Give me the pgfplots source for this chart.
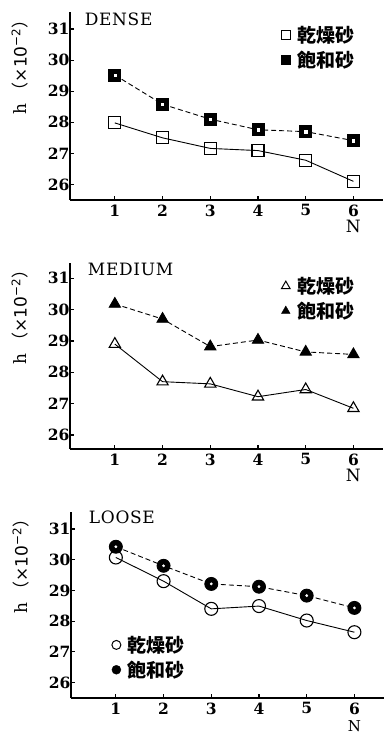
\documentclass[border=0pt]{standalone}
\usepackage{fontspec}
\setmainfont{DejaVu Serif}
\newfontfamily\cjk{Noto Sans CJK SC}
\newfontfamily\sansf{DejaVu Sans}
\usepackage{pgfplots}
\pgfplotsset{compat=1.18}
\pgfplotsset{
 panel/.style={
  scale only axis, width=313pt, height=188pt,
  xmin=0.06, xmax=6.62, ymin=25.5, ymax=31.55,
  axis x line*=bottom, axis y line*=left,
  axis line style={line width=1.6pt},
  xtick={1,...,6}, ytick={26,...,31},
  tick align=inside, major tick length=4pt,
  tick style={line width=1.2pt, black},
  /pgf/number format/assume math mode=true,
  ticklabel style={font=\bfseries\fontsize{15.5}{15.5}\selectfont},
  xticklabel style={yshift=-1pt},
  yticklabel style={xshift=3pt},
  legend style={draw=none, fill=none, font=\cjk\bfseries\fontsize{19}{19}\selectfont, row sep=3pt, inner sep=0pt},
  legend cell align=left,
  clip=false,
 },
 dry/.style={solid, line width=0.9pt, black, mark options={solid, fill=white, line width=1.1pt}},
 sat/.style={dash pattern=on 5pt off 3pt, line width=0.9pt, black, mark options={solid, fill=black}},
}
\newcommand{\ylab}{\node[rotate=90, font=\fontsize{17}{17}\selectfont] at (axis description cs:-0.16,0.73) {h\hspace{4pt}{\cjk （}{\sansf ×10\textsuperscript{−2}}{\cjk ）}};}
\newcommand{\ttl}[1]{{\fontsize{17}{17}\selectfont\addfontfeature{LetterSpace=4}#1}}
\begin{document}
\begin{tikzpicture}[x=1pt,y=1pt]
\path[use as bounding box] (0,0) rectangle (383,735);
% ---------- DENSE ----------
\begin{axis}[panel, at={(70pt,535pt)}, anchor=south west,
  legend style={at={(axis description cs:0.675,0.935)}, anchor=north west}]
\addlegendimage{only marks, mark=square, mark size=4.5pt, mark options={fill=white, line width=1pt}}
\addlegendentry{\hspace{5pt}乾燥砂}
\addlegendimage{only marks, mark=square*, mark size=4.5pt, mark options={fill=black}}
\addlegendentry{\hspace{5pt}飽和砂}
\addplot[sat, mark=square*, mark size=6pt, forget plot] coordinates {(1,29.52) (2,28.58) (3,28.10) (4,27.76) (5,27.70) (6,27.41)};
\addplot[only marks, mark=square*, mark size=1.1pt, white, forget plot] coordinates {(1,29.52) (2,28.58) (3,28.10) (4,27.76) (5,27.70) (6,27.41)};
\addplot[dry, mark=square, mark size=6pt, forget plot] coordinates {(1,27.98) (2,27.50) (3,27.16) (4,27.09) (5,26.78) (6,26.10)};
\node[anchor=base west] at (axis description cs:0.036,0.93) {\ttl{DENSE}};
\node[font=\fontsize{17}{17}\selectfont] at (axis cs:6,25.5) [yshift=-26pt] {N};
\ylab
\end{axis}
% ---------- MEDIUM ----------
\begin{axis}[panel, height=186pt, ymin=25.55, ymax=31.49, at={(70pt,286pt)}, anchor=south west,
  legend style={at={(axis description cs:0.675,0.935)}, anchor=north west}]
\addlegendimage{only marks, mark=triangle, mark size=5pt, mark options={fill=white, line width=1pt}}
\addlegendentry{\hspace{5pt}乾燥砂}
\addlegendimage{only marks, mark=triangle*, mark size=5pt, mark options={fill=black}}
\addlegendentry{\hspace{5pt}飽和砂}
\addplot[sat, mark=triangle*, mark size=6.5pt, forget plot] coordinates {(1,30.18) (2,29.70) (3,28.82) (4,29.03) (5,28.65) (6,28.57)};
\addplot[dry, mark=triangle, mark size=6.5pt, forget plot] coordinates {(1,28.90) (2,27.70) (3,27.63) (4,27.22) (5,27.45) (6,26.85)};
\node[anchor=base west] at (axis description cs:0.046,0.935) {\ttl{MEDIUM}};
\node[font=\fontsize{17}{17}\selectfont] at (axis cs:6,25.55) [yshift=-26pt] {N};
\ylab
\end{axis}
% ---------- LOOSE ----------
\begin{axis}[panel, height=186pt, at={(71pt,37pt)}, anchor=south west,
  legend style={at={(axis description cs:0.13,0.345)}, anchor=north west}]
\addlegendimage{only marks, mark=o, mark size=4.5pt, mark options={fill=white, line width=1pt}}
\addlegendentry{\hspace{5pt}乾燥砂}
\addlegendimage{only marks, mark=*, mark size=4.5pt, mark options={fill=black}}
\addlegendentry{\hspace{5pt}飽和砂}
\addplot[sat, mark=*, mark size=6.5pt, forget plot] coordinates {(1,30.42) (2,29.80) (3,29.21) (4,29.12) (5,28.83) (6,28.43)};
\addplot[only marks, mark=*, mark size=1.2pt, white, forget plot] coordinates {(1,30.42) (2,29.80) (3,29.21) (4,29.12) (5,28.83) (6,28.43)};
\addplot[dry, mark=o, mark size=6.5pt, forget plot] coordinates {(1,30.07) (2,29.30) (3,28.40) (4,28.49) (5,28.02) (6,27.64)};
\node[anchor=base west] at (axis description cs:0.046,0.936) {\ttl{LOOSE}};
\node[font=\fontsize{15}{15}\selectfont, anchor=base, inner sep=0pt] at (axis cs:6,25.5) [yshift=-34pt] {N};
\ylab
\end{axis}
\end{tikzpicture}
\end{document}
